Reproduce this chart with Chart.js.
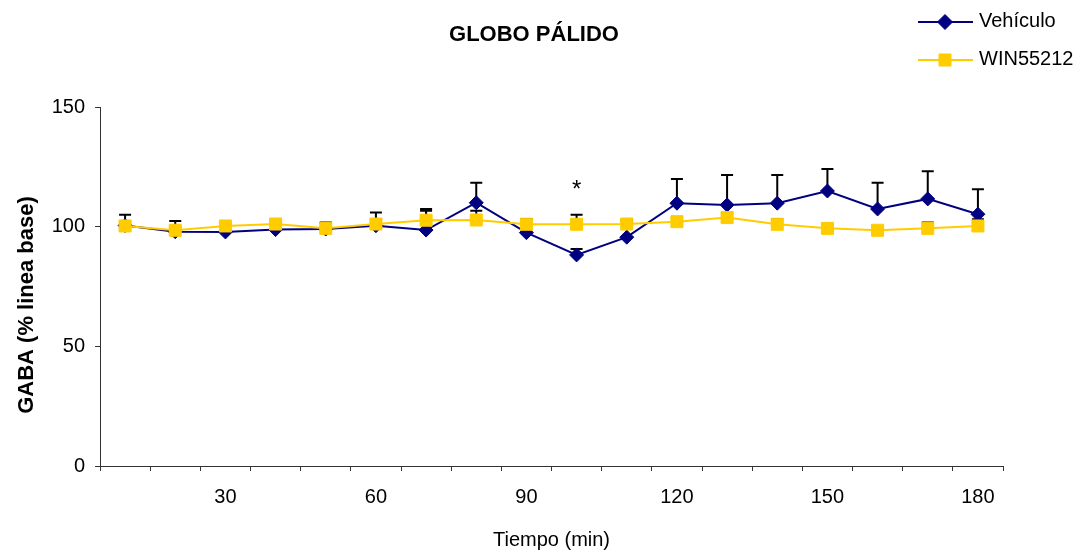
<!DOCTYPE html>
<html>
<head>
<meta charset="utf-8">
<script src="https://cdn.jsdelivr.net/npm/chart.js@4/dist/chart.umd.min.js"></script>
<style>
  html, body { margin: 0; padding: 0; background: #fff; }
</style>
</head>
<body>
<canvas id="myChart" width="1079" height="552"></canvas>
<script>
// datos
const tiempo = [10, 20, 30, 40, 50, 60, 70, 80, 90, 100, 110, 120, 130, 140, 150, 160, 170, 180];
const vehiculo = [100.5, 97.9, 97.8, 98.8, 99, 100.4, 98.6, 110, 97.5, 88.2, 95.6, 109.8, 109.1, 109.8, 114.9, 107.4, 111.6, 105.2];
const vehiculoErr = [4.5, 4.5, 2.5, 3, 2.5, 5.5, 8.8, 8.4, 5.7, 2.5, 6.5, 10.1, 12.5, 11.8, 9.2, 10.9, 11.6, 10.4];
const win = [100.3, 98.5, 100.3, 101.1, 99.3, 101.1, 102.7, 102.8, 101, 101, 101.1, 102.1, 103.8, 101, 99.3, 98.5, 99.3, 100.3];
const winErr = [1, 1.3, 1.1, 1.3, 2.4, 1.5, 3.9, 3.8, 2.2, 4, 1.7, 1.8, 1.8, 2.1, 1.4, 1.4, 2.4, 2.8];
const yTicks = [0, 50, 100, 150];
const asterisco = [100]; // tiempo con diferencia significativa

const azul = "#000080";
const amarillo = "#FFCC00";
const gris = "#333333";
const fuente = '"Liberation Sans", Arial, sans-serif';

Chart.defaults.font.family = fuente;
Chart.defaults.color = "#000";

// barras de error (solo hacia arriba)
const barrasError = {
  id: "barrasError",
  beforeDatasetsDraw(chart) {
    const { ctx, scales: { x, y } } = chart;
    ctx.save();
    ctx.strokeStyle = "#000";
    ctx.lineWidth = 2;
    [[vehiculo, vehiculoErr], [win, winErr]].forEach(([medias, errores]) => {
      medias.forEach((m, i) => {
        const px = x.getPixelForValue(i);
        const y0 = y.getPixelForValue(m);
        const y1 = y.getPixelForValue(m + errores[i]);
        ctx.beginPath();
        ctx.moveTo(px, y0);
        ctx.lineTo(px, y1);
        ctx.moveTo(px - 6, y1);
        ctx.lineTo(px + 6, y1);
        ctx.stroke();
      });
    });
    ctx.restore();
  }
};

// titulo, titulo eje y, leyenda y asterisco
const decoracion = {
  id: "decoracion",
  afterDraw(chart) {
    const { ctx, scales: { x, y } } = chart;
    ctx.save();
    ctx.fillStyle = "#000";
    ctx.textBaseline = "alphabetic";

    ctx.font = "bold 22px " + fuente;
    ctx.textAlign = "center";
    ctx.fillText("GLOBO PÁLIDO", 534, 41);

    ctx.save();
    ctx.translate(33, 305);
    ctx.rotate(-Math.PI / 2);
    ctx.fillText("GABA (% linea base)", 0, 0);
    ctx.restore();

    // asterisco
    ctx.font = "24px " + fuente;
    asterisco.forEach(t => {
      const i = tiempo.indexOf(t);
      const tope = Math.max(vehiculo[i] + vehiculoErr[i], win[i] + winErr[i]);
      ctx.fillText("*", x.getPixelForValue(i), y.getPixelForValue(tope) - 18);
    });

    // leyenda
    ctx.font = "20px " + fuente;
    const items = [
      { texto: "Vehículo", color: azul, estilo: "rectRot", radio: 7.5, yy: 22 },
      { texto: "WIN55212", color: amarillo, estilo: "rect", radio: 8.5, yy: 60 }
    ];
    ctx.textAlign = "left";
    items.forEach(it => {
      ctx.strokeStyle = it.color;
      ctx.lineWidth = 2;
      ctx.beginPath();
      ctx.moveTo(918, it.yy);
      ctx.lineTo(973, it.yy);
      ctx.stroke();
      ctx.fillStyle = it.color;
      ctx.lineWidth = 1;
      Chart.helpers.drawPoint(ctx, { pointStyle: it.estilo, radius: it.radio, borderWidth: 1, rotation: 0 }, 945, it.yy);
      ctx.fillStyle = "#000";
      ctx.fillText(it.texto, 979, it.yy + 5);
    });
    ctx.restore();
  }
};

const ctx = document.getElementById("myChart");

new Chart(ctx, {
  type: "line",
  data: {
    labels: tiempo,
    datasets: [
      {
        label: "Vehículo",
        data: vehiculo,
        borderColor: azul,
        backgroundColor: azul,
        borderWidth: 2,
        pointStyle: "rectRot",
        pointRadius: 7,
        pointBorderWidth: 1,
        tension: 0,
        order: 2
      },
      {
        label: "WIN55212",
        data: win,
        borderColor: amarillo,
        backgroundColor: amarillo,
        borderWidth: 2,
        pointStyle: "rect",
        pointRadius: 8.5,
        pointBorderWidth: 1,
        tension: 0,
        order: 1
      }
    ]
  },
  options: {
    responsive: false,
    animation: false,
    layout: { padding: { top: 107, right: 76, left: 0, bottom: 0 } },
    plugins: {
      legend: { display: false },
      tooltip: { enabled: false },
      title: { display: false }
    },
    scales: {
      x: {
        type: "category",
        offset: true,
        afterFit: s => { s.height = 86; },
        grid: { drawOnChartArea: false, drawTicks: true, tickLength: 5, color: gris, offset: true },
        border: { display: true, color: gris, width: 1 },
        ticks: {
          autoSkip: false,
          maxRotation: 0,
          padding: 14,
          font: { size: 20 },
          callback: function (v, i) {
            return tiempo[i] % 30 === 0 ? String(tiempo[i]) : "";
          }
        },
        title: { display: true, text: "Tiempo (min)", font: { size: 20 }, padding: 0 }
      },
      y: {
        min: 0,
        max: 150,
        afterFit: s => { s.width = 100; },
        afterBuildTicks: s => { s.ticks = yTicks.map(v => ({ value: v })); },
        grid: { drawOnChartArea: false, drawTicks: true, tickLength: 5, color: gris },
        border: { display: true, color: gris, width: 1 },
        ticks: { padding: 10, font: { size: 20 } }
      }
    }
  },
  plugins: [barrasError, decoracion]
});
</script>
</body>
</html>
